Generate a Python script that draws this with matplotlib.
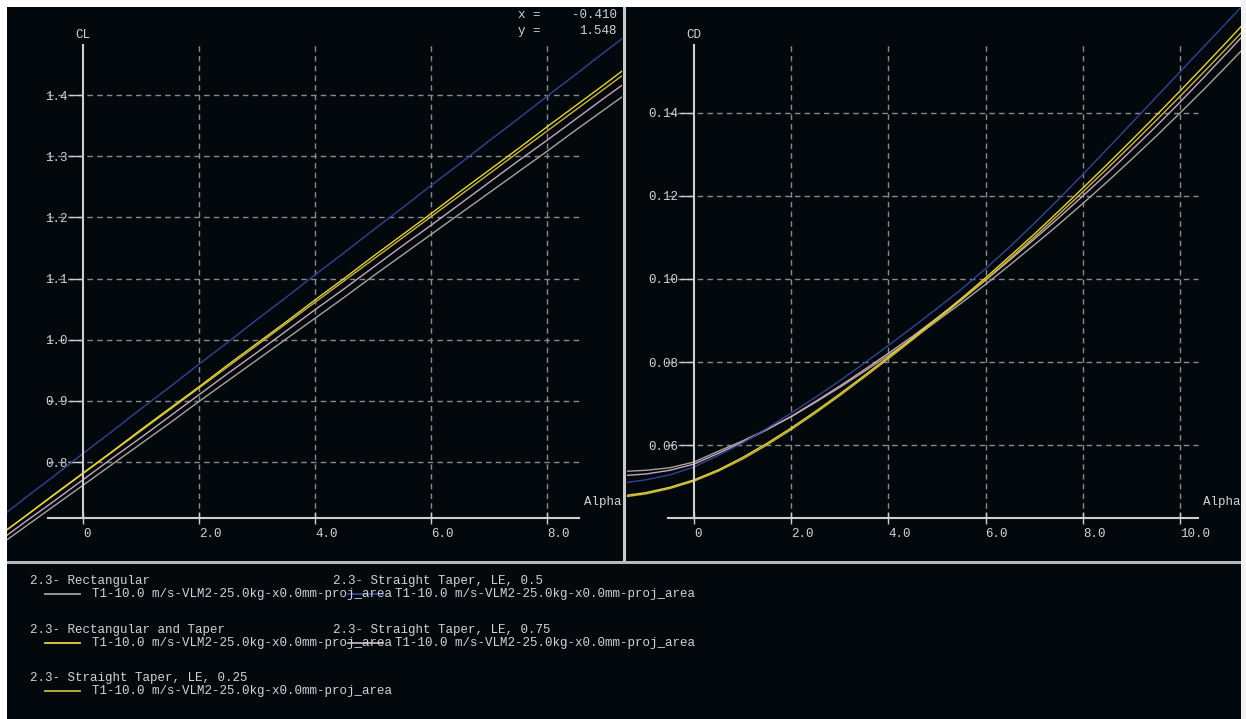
import matplotlib
matplotlib.use("Agg")
import matplotlib.pyplot as plt
from matplotlib.patches import Rectangle

# ---------------------------------------------------------------- data
alpha = [-2.0, -1.5, -1.0, -0.5, 0.0, 0.5, 1.0, 1.5, 2.0, 2.5, 3.0, 3.5, 4.0, 4.5,
         5.0, 5.5, 6.0, 6.5, 7.0, 7.5, 8.0, 8.5, 9.0, 9.5, 10.0, 10.5, 11.0, 11.5]

series_names = ["2.3- Rectangular",
                "2.3- Rectangular and Taper",
                "2.3- Straight Taper, LE, 0.25",
                "2.3- Straight Taper, LE, 0.5",
                "2.3- Straight Taper, LE, 0.75"]
polar_name = "T1-10.0 m/s-VLM2-25.0kg-x0.0mm-proj_area"
series_colors = ["#a8a39c", "#e6d43a", "#c9b446", "#2f4494", "#c8a6ba"]

cl_rect = [0.625, 0.660, 0.694, 0.728, 0.762, 0.796, 0.830, 0.864, 0.899, 0.933,
           0.967, 1.001, 1.035, 1.069, 1.104, 1.138, 1.172, 1.206, 1.240, 1.274,
           1.308, 1.343, 1.377, 1.411, 1.445, 1.479, 1.513, 1.548]
cl_rect_taper = [0.641, 0.676, 0.711, 0.747, 0.782, 0.817, 0.853, 0.888, 0.923, 0.959,
                 0.994, 1.029, 1.065, 1.100, 1.136, 1.171, 1.206, 1.242, 1.277, 1.312,
                 1.348, 1.383, 1.418, 1.454, 1.489, 1.524, 1.560, 1.595]
cl_le025 = [0.641, 0.676, 0.711, 0.746, 0.781, 0.816, 0.851, 0.886, 0.921, 0.956,
            0.991, 1.026, 1.061, 1.096, 1.131, 1.166, 1.201, 1.236, 1.271, 1.306,
            1.341, 1.376, 1.411, 1.446, 1.481, 1.516, 1.551, 1.586]
cl_le050 = [0.668, 0.704, 0.741, 0.777, 0.814, 0.850, 0.887, 0.923, 0.960, 0.996,
            1.033, 1.069, 1.106, 1.142, 1.179, 1.215, 1.252, 1.288, 1.325, 1.361,
            1.398, 1.434, 1.471, 1.507, 1.544, 1.580, 1.617, 1.653]
cl_le075 = [0.632, 0.667, 0.702, 0.736, 0.771, 0.806, 0.840, 0.875, 0.910, 0.945,
            0.979, 1.014, 1.049, 1.083, 1.118, 1.153, 1.187, 1.222, 1.257, 1.292,
            1.326, 1.361, 1.396, 1.430, 1.465, 1.500, 1.534, 1.569]

cd_rect = [0.0535, 0.0536, 0.0539, 0.0545, 0.0559, 0.0585, 0.0610, 0.0638, 0.0668, 0.0703,
           0.0739, 0.0777, 0.0816, 0.0856, 0.0899, 0.0942, 0.0987, 0.1034, 0.1082, 0.1131,
           0.1182, 0.1234, 0.1288, 0.1343, 0.1400, 0.1458, 0.1518, 0.1579]
cd_rect_taper = [0.0472, 0.0477, 0.0485, 0.0498, 0.0516, 0.0540, 0.0570, 0.0604, 0.0641, 0.0681,
                 0.0723, 0.0767, 0.0812, 0.0858, 0.0905, 0.0953, 0.1003, 0.1055, 0.1108, 0.1163,
                 0.1219, 0.1276, 0.1334, 0.1393, 0.1453, 0.1514, 0.1576, 0.1639]
cd_le025 = [0.0469, 0.0474, 0.0482, 0.0495, 0.0513, 0.0537, 0.0566, 0.0600, 0.0637, 0.0677,
            0.0719, 0.0763, 0.0808, 0.0854, 0.0901, 0.0949, 0.0998, 0.1049, 0.1101, 0.1155,
            0.1210, 0.1266, 0.1323, 0.1381, 0.1440, 0.1500, 0.1561, 0.1623]
cd_le050 = [0.0502, 0.0508, 0.0516, 0.0528, 0.0547, 0.0575, 0.0605, 0.0640, 0.0677, 0.0715,
            0.0755, 0.0797, 0.0840, 0.0884, 0.0929, 0.0975, 0.1025, 0.1078, 0.1134, 0.1192,
            0.1252, 0.1313, 0.1375, 0.1437, 0.1499, 0.1561, 0.1623, 0.1685]
cd_le075 = [0.0524, 0.0526, 0.0530, 0.0539, 0.0554, 0.0580, 0.0607, 0.0637, 0.0669, 0.0705,
            0.0742, 0.0781, 0.0821, 0.0862, 0.0906, 0.0950, 0.0997, 0.1046, 0.1096, 0.1147,
            0.1200, 0.1254, 0.1310, 0.1367, 0.1426, 0.1487, 0.1549, 0.1612]

cl_series = [cl_rect, cl_rect_taper, cl_le025, cl_le050, cl_le075]
cd_series = [cd_rect, cd_rect_taper, cd_le025, cd_le050, cd_le075]

cl_xticks = [0, 2, 4, 6, 8]
cl_xticklabels = ["0", "2.0", "4.0", "6.0", "8.0"]
cl_yticks = [0.8, 0.9, 1.0, 1.1, 1.2, 1.3, 1.4]
cl_yticklabels = ["0.8", "0.9", "1.0", "1.1", "1.2", "1.3", "1.4"]

cd_xticks = [0, 2, 4, 6, 8, 10]
cd_xticklabels = ["0", "2.0", "4.0", "6.0", "8.0", "10.0"]
cd_yticks = [0.06, 0.08, 0.10, 0.12, 0.14]
cd_yticklabels = ["0.06", "0.08", "0.10", "0.12", "0.14"]

cursor_x = "-0.410"
cursor_y = "1.548"

# ---------------------------------------------------------------- style
BG = "#03080d"
FG = "#d2d2d2"
AXIS = "#cfcfcf"
GRID = "#8a8a8a"
FONT = "Liberation Mono"
FS = 9

W, H = 1246, 719
fig = plt.figure(figsize=(W / 100, H / 100), dpi=100, facecolor=BG)


def px_box(x0, y0, x1, y1):
    return [x0 / W, 1 - y1 / H, (x1 - x0) / W, (y1 - y0) / H]


def fig_rect(x0, y0, x1, y1, color):
    fig.add_artist(Rectangle((x0 / W, 1 - y1 / H), (x1 - x0) / W, (y1 - y0) / H,
                             transform=fig.transFigure, facecolor=color,
                             edgecolor="none", zorder=10))


def polar_axes(box, xlim, ylim, xspan, yspan, xticks, xlabels, yticks, ylabels, ylab):
    ax = fig.add_axes(px_box(*box))
    ax.set_facecolor(BG)
    ax.set_xlim(*xlim)
    ax.set_ylim(*ylim)
    for s in ("top", "right"):
        ax.spines[s].set_visible(False)
    ax.spines["left"].set_position(("data", 0))
    ax.spines["left"].set_bounds(*yspan)
    ax.spines["bottom"].set_position(("data", yspan[0]))
    ax.spines["bottom"].set_bounds(*xspan)
    for s in ("left", "bottom"):
        ax.spines[s].set_color(AXIS)
        ax.spines[s].set_linewidth(1.5)
        ax.spines[s].set_zorder(4)
    ax.set_xticks(xticks, xlabels)
    ax.set_yticks(yticks, ylabels)
    ax.tick_params(axis="x", direction="inout", length=8, width=1, colors=AXIS,
                   labelcolor=FG, labelsize=FS, pad=3)
    ax.tick_params(axis="y", direction="out", length=10, width=1, colors=AXIS,
                   labelcolor=FG, labelsize=FS, pad=1)
    for lab in ax.get_xticklabels() + ax.get_yticklabels():
        lab.set_fontfamily(FONT)
    for lab in ax.get_xticklabels():
        lab.set_horizontalalignment("left")
    # dashed grid restricted to the axis extents
    ax.hlines(yticks, xspan[0], xspan[1], colors=GRID, linestyles=(0, (4, 3)),
              linewidth=1, zorder=1)
    ax.vlines(xticks[1:], yspan[0], yspan[1], colors=GRID, linestyles=(0, (4, 3)),
              linewidth=1, zorder=1)
    ax.annotate(ylab, xy=(0, yspan[1]), xytext=(0, 4), textcoords="offset pixels",
                ha="center", va="bottom", color=FG, fontsize=FS, family=FONT)
    ax.annotate("Alpha", xy=(xspan[1], yspan[0]), xytext=(5, 10),
                textcoords="offset pixels", ha="left", va="bottom", color=FG,
                fontsize=FS, family=FONT, annotation_clip=False)
    return ax


ax_cl = polar_axes((7, 7, 622, 561), (-1.310, 9.293), (0.6382, 1.5439),
                   (-0.603, 8.552), (0.7085, 1.4817),
                   cl_xticks, cl_xticklabels, cl_yticks, cl_yticklabels, "CL")
ax_cd = polar_axes((627, 7, 1241, 561), (-1.379, 11.255), (0.03205, 0.16554),
                   (-0.535, 10.37), (0.04241, 0.15639),
                   cd_xticks, cd_xticklabels, cd_yticks, cd_yticklabels, "CD")

draw_order = [0, 4, 2, 1, 3]
for i in draw_order:
    ax_cl.plot(alpha, cl_series[i], color=series_colors[i], lw=1.0, zorder=3)
    ax_cd.plot(alpha, cd_series[i], color=series_colors[i], lw=1.0, zorder=3)

# cursor readout in the CL panel
fig.text(518 / W, 1 - 15 / H, "x =", color=FG, fontsize=FS, family=FONT,
         ha="left", va="center")
fig.text(617 / W, 1 - 15 / H, cursor_x, color=FG, fontsize=FS, family=FONT,
         ha="right", va="center")
fig.text(518 / W, 1 - 31 / H, "y =", color=FG, fontsize=FS, family=FONT,
         ha="left", va="center")
fig.text(617 / W, 1 - 31 / H, cursor_y, color=FG, fontsize=FS, family=FONT,
         ha="right", va="center")

# ---------------------------------------------------------------- legend panel
ax_leg = fig.add_axes(px_box(7, 564, 1241, 719))
ax_leg.set_facecolor(BG)
ax_leg.set_xlim(7, 1241)
ax_leg.set_ylim(719, 564)
ax_leg.axis("off")
ax_leg.patch.set_visible(True)

col_x = [30, 333]
row_y = [581, 630, 678]
slots = [(0, 0), (0, 1), (0, 2), (1, 0), (1, 1)]
for i, (c, r) in enumerate(slots):
    x0, y0 = col_x[c], row_y[r]
    ax_leg.plot([x0 + 15, x0 + 50], [y0 + 13, y0 + 13], color=series_colors[i],
                lw=1.3, zorder=1)
for i, (c, r) in enumerate(slots):
    x0, y0 = col_x[c], row_y[r]
    ax_leg.text(x0, y0, series_names[i], color=FG, fontsize=FS, family=FONT,
                ha="left", va="center", zorder=2)
    ax_leg.text(x0 + 62, y0 + 13, polar_name, color=FG, fontsize=FS, family=FONT,
                ha="left", va="center", zorder=2)

# ---------------------------------------------------------------- frame
fig_rect(0, 0, W, 7, "#ffffff")
fig_rect(0, 0, 7, H, "#ffffff")
fig_rect(1241, 0, W, H, "#f2f2f2")
fig_rect(622, 7, 627, 564, "#0b0f14")
fig_rect(623, 7, 626, 564, "#c9c9c9")
fig_rect(7, 561, 1241, 564, "#b8b8b8")

fig.savefig("out.png", dpi=100, facecolor=BG)
